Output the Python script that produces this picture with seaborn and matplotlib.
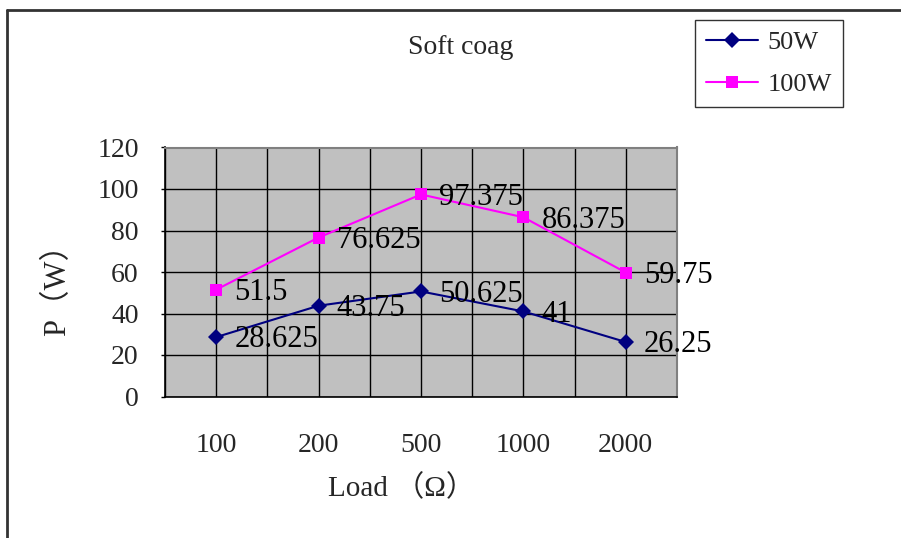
import matplotlib
matplotlib.use("Agg")
import matplotlib.pyplot as plt
import seaborn as sns
import pandas as pd
import numpy as np
from matplotlib.lines import Line2D

# Chart data
loads = ["100", "200", "500", "1000", "2000"]
p_50w = [28.625, 43.75, 50.625, 41, 26.25]
p_100w = [51.5, 76.625, 97.375, 86.375, 59.75]
series_names = ["50W", "100W"]
y_ticks = [0, 20, 40, 60, 80, 100, 120]

sns.set_theme(style="white")
plt.rcParams["font.family"] = ["Liberation Serif", "Noto Sans CJK SC", "DejaVu Sans"]
plt.rcParams["axes.unicode_minus"] = False

pos = np.arange(len(loads))
df = pd.DataFrame({
    "pos": np.concatenate([pos, pos]),
    "P": p_50w + p_100w,
    "series": [series_names[0]] * len(loads) + [series_names[1]] * len(loads),
})

colors = {"50W": "#000080", "100W": "#FF00FF"}
markers = {"50W": "D", "100W": "s"}

W, H = 901, 538
fig = plt.figure(figsize=(W / 100, H / 100), dpi=100)
ax = fig.add_axes([165 / W, 1 - 396.5 / H, (677 - 165) / W, (396.5 - 147.5) / H])
ax.set_facecolor("#C0C0C0")

sns.lineplot(data=df, x="pos", y="P", hue="series", style="series",
             palette=colors, markers=markers, dashes=False,
             linewidth=1.5, markersize=8, markeredgewidth=0,
             legend=False, ax=ax, zorder=3)

ax.set_xlim(-0.5, len(loads) - 0.5)
ax.set_ylim(0, 120)
ax.set_yticks(y_ticks)
ax.set_yticklabels([str(v) for v in y_ticks], fontsize=20)
ax.set_xticks(pos)
ax.set_xticklabels(loads, fontsize=20)
ax.set_xticks(np.arange(-0.5, len(loads), 1.0), minor=True)
ax.tick_params(axis="x", which="major", length=0, pad=26)
ax.tick_params(axis="x", which="minor", direction="in", length=4, width=1, color="black")
ax.tick_params(axis="y", which="major", direction="out", length=3, width=1, color="black", pad=16, left=True)
ax.set_xlabel("")
ax.set_ylabel("")

ax.grid(True, which="both", axis="x", color="black", linewidth=1)
ax.grid(True, which="major", axis="y", color="black", linewidth=1)
ax.set_axisbelow(True)

for side in ["left", "bottom"]:
    ax.spines[side].set_color("black")
    ax.spines[side].set_linewidth(1.2)
for side in ["top", "right"]:
    ax.spines[side].set_color("#808080")
    ax.spines[side].set_linewidth(1.5)

# value labels to the right of each point
for vals in (p_50w, p_100w):
    for x, v in zip(pos, vals):
        ax.annotate(f"{v:g}", (x, v), xytext=(13, -2), textcoords="offset points",
                    ha="left", va="center", fontsize=22, color="black", zorder=5,
                    annotation_clip=False)

# titles and axis labels
fig.text(461 / W, 1 - 48 / H, "Soft coag", ha="center", va="center", fontsize=20)
fig.text(401 / W, 1 - 488 / H, "Load （Ω）", ha="center", va="center", fontsize=21)
fig.text(58 / W, 1 - 282 / H, "P（W）", ha="center", va="center", fontsize=22, rotation=90)

# legend
handles = [Line2D([], [], color=colors[s], marker=markers[s], markersize=8,
                  markeredgewidth=0, linewidth=1.5) for s in series_names]
leg = fig.legend(handles, series_names, loc="upper left",
                 bbox_to_anchor=(695 / W, 1 - 20 / H), fontsize=19,
                 frameon=True, fancybox=False, shadow=False,
                 handlelength=2.0, handletextpad=0.35, borderpad=0.4,
                 labelspacing=0.7, borderaxespad=0)
leg.get_frame().set_edgecolor("black")
leg.get_frame().set_linewidth(1)

# outer chart frame (top and left edges)
fig.add_artist(Line2D([7 / W, 7 / W], [0, 1 - 9.5 / H], transform=fig.transFigure,
                      color="#333333", linewidth=2))
fig.add_artist(Line2D([7 / W, 1], [1 - 9.5 / H, 1 - 9.5 / H], transform=fig.transFigure,
                      color="#333333", linewidth=2))

fig.savefig("out.png", dpi=100, facecolor="white")
